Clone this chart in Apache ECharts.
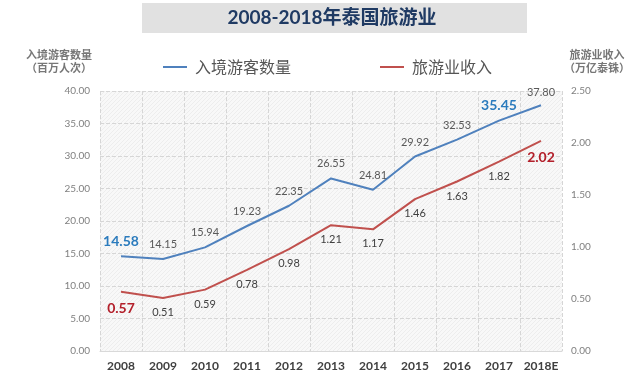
<!DOCTYPE html>
<html><head><meta charset="utf-8">
<script src="https://cdn.jsdelivr.net/npm/echarts@6/dist/echarts.min.js"></script>
<style>html,body{margin:0;padding:0;background:#fff}#c{width:640px;height:386px}</style>
</head><body><div id="c"></div>
<script>
var years = ['2008','2009','2010','2011','2012','2013','2014','2015','2016','2017','2018E'];
var visitors = [14.58,14.15,15.94,19.23,22.35,26.55,24.81,29.92,32.53,35.45,37.80];
var revenue = [0.57,0.51,0.59,0.78,0.98,1.21,1.17,1.46,1.63,1.82,2.02];
var leftTicks = [0,40,5];
var rightTicks = [0,2.5,0.5];

var FONT = 'Lato, "Noto Sans CJK SC", sans-serif';
var CJK = '"Noto Sans CJK SC", sans-serif';

// hatch pattern
var pc = document.createElement('canvas');
pc.width = 4; pc.height = 4;
var g = pc.getContext('2d');
g.fillStyle = '#f8f8f8'; g.fillRect(0,0,4,4);
g.strokeStyle = '#ededed'; g.lineWidth = 1;
g.beginPath(); g.moveTo(0,4); g.lineTo(4,0); g.stroke();

function blueData(){
  return visitors.map(function(v,i){
    var d = {value:v};
    if(i===0 || i===9){
      d.label = {fontSize:14,fontWeight:'bold',color:'#2b7bbd',distance:8};
    }
    if(i===10){ d.label = {offset:[0,2]}; }
    return d;
  });
}
function redData(){
  return revenue.map(function(v,i){
    var d = {value:v};
    if(i===0 || i===10){
      d.label = {fontSize:14,fontWeight:'bold',color:'#b3202b',distance:10};
    }
    return d;
  });
}

var chart = echarts.init(document.getElementById('c'));
chart.setOption({
  animation:false,
  textStyle:{fontFamily:FONT},
  grid:{left:100,right:78,top:91,bottom:35,show:true,borderWidth:0,
        backgroundColor:{image:pc,repeat:'repeat'}},
  graphic:[
    {type:'rect',shape:{x:142,y:3,width:385,height:30},style:{fill:'#e1e1e1'}},
    {type:'text',x:332,y:18,style:{text:'2008-2018年泰国旅游业',font:'bold 19px '+FONT,fill:'#1f3a63',textAlign:'center',textVerticalAlign:'middle'}},
    {type:'text',x:59,y:61,style:{text:'入境游客数量\n（百万人次）',font:'bold 11px '+CJK,fill:'#777',textAlign:'center',textVerticalAlign:'middle',lineHeight:13}},
    {type:'text',x:597,y:61,style:{text:'旅游业收入\n（万亿泰铢）',font:'bold 11px '+CJK,fill:'#777',textAlign:'center',textVerticalAlign:'middle',lineHeight:13}}
  ],
  legend:{
    left:158, top:54, itemWidth:24, itemHeight:2, itemGap:89, icon:'rect',
    textStyle:{fontFamily:CJK,fontSize:16,color:'#555',padding:[0,0,0,3]},
    data:['入境游客数量','旅游业收入']
  },
  xAxis:{
    type:'category', data:years, boundaryGap:true,
    axisLine:{show:true,lineStyle:{color:'#d9d9d9'}},
    axisTick:{show:false},
    axisLabel:{interval:0,fontFamily:FONT,fontSize:12,fontWeight:'bold',color:'#404040',margin:9},
    splitLine:{show:true,interval:0,lineStyle:{color:'#d6d6d6',type:'dashed'}}
  },
  yAxis:[
    {type:'value',min:leftTicks[0],max:leftTicks[1],interval:leftTicks[2],
     axisLine:{show:false},axisTick:{show:false},
     axisLabel:{formatter:function(v){return v.toFixed(2);},fontSize:10,color:'#808080',margin:10},
     splitLine:{show:true,lineStyle:{color:'#d6d6d6',type:'dashed'}}},
    {type:'value',min:rightTicks[0],max:rightTicks[1],interval:rightTicks[2],
     axisLine:{show:false},axisTick:{show:false},
     axisLabel:{formatter:function(v){return v.toFixed(2);},fontSize:10,color:'#808080',margin:9},
     splitLine:{show:false}}
  ],
  series:[
    {name:'入境游客数量',type:'line',yAxisIndex:0,data:blueData(),
     showSymbol:true,symbol:'circle',symbolSize:0.1,lineStyle:{width:2,color:'#4f81bd'},itemStyle:{color:'#4f81bd'},
     label:{show:true,position:'top',distance:9,fontSize:11,color:'#595959',
            formatter:function(p){return p.value.toFixed(2);}}},
    {name:'旅游业收入',type:'line',yAxisIndex:1,data:redData(),
     showSymbol:true,symbol:'circle',symbolSize:0.1,lineStyle:{width:2,color:'#c0504d'},itemStyle:{color:'#c0504d'},
     label:{show:true,position:'bottom',distance:9,fontSize:11,color:'#404040',
            formatter:function(p){return p.value.toFixed(2);}}}
  ]
});
</script></body></html>
